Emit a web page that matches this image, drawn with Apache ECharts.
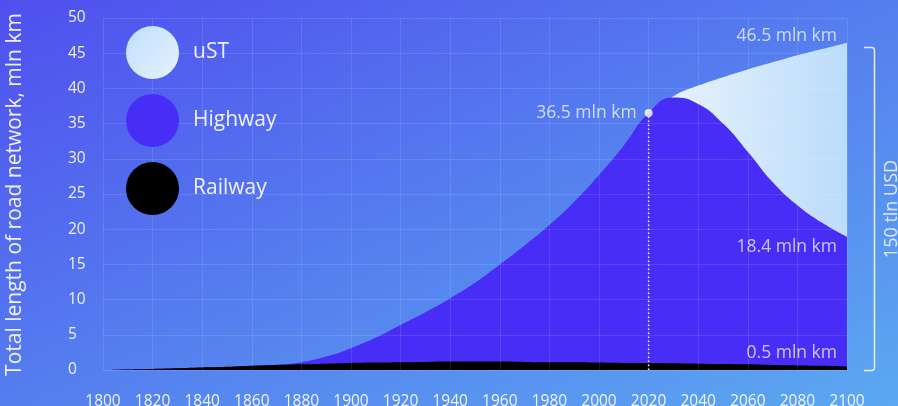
<!DOCTYPE html>
<html>
<head>
<meta charset="utf-8">
<script src="https://cdn.jsdelivr.net/npm/echarts@6/dist/echarts.min.js"></script>
<style>
  html, body { margin: 0; padding: 0; }
  #chart { width: 898px; height: 406px; }
</style>
</head>
<body>
<div id="chart"></div>
<script>
// Road network length, mln km
const years = [1800, 1810, 1820, 1830, 1840, 1850, 1860, 1870, 1880, 1890,
               1900, 1910, 1920, 1930, 1940, 1950, 1960, 1970, 1980, 1990,
               2000, 2010, 2020, 2030, 2040, 2050, 2060, 2070, 2080, 2090, 2100];
const railway = [0, 0.08, 0.15, 0.25, 0.35, 0.45, 0.6, 0.7, 0.8, 0.9,
                 1.0, 1.05, 1.1, 1.15, 1.2, 1.2, 1.2, 1.15, 1.1, 1.1,
                 1.05, 1.0, 1.0, 0.95, 0.9, 0.85, 0.8, 0.7, 0.65, 0.6, 0.5];
const highway = [0, 0, 0, 0, 0, 0, 0, 0.05, 0.3, 1.0,
                 2.1, 3.55, 5.3, 7.05, 9.0, 11.2, 13.8, 16.55, 19.5, 22.8,
                 26.65, 30.9, 35.5, 37.75, 36.9, 34.15, 30.2, 26.0, 22.75, 20.3, 18.4];
// uST network total (upper envelope), from 2020 on
const ustYears = [2020, 2030, 2040, 2050, 2060, 2070, 2080, 2090, 2100];
const ust = [36.5, 38.9, 40.4, 41.6, 42.7, 43.7, 44.7, 45.6, 46.5];

const seriesNames = ['uST', 'Highway', 'Railway'];
const yearTicks = { min: 1800, max: 2100, step: 20 };
const lengthTicks = { min: 0, max: 50, step: 5 };
const bracketText = '150 tln USD';
const yTitle = 'Total length of road network, mln km';

const FONT = '"Open Sans", sans-serif';
const TEXT = 'rgba(255,255,255,0.9)';
const HIGHWAY_COLOR = '#472df5';

const pairs = (xs, ys) => xs.map((x, i) => [x, ys[i]]);
const last = a => a[a.length - 1];
const fmt = v => v.toFixed(1) + ' mln km';
// highway sits on top of the railway band
const highwayTop = highway.map((v, i) => +(v + railway[i]).toFixed(2));
const i2020 = years.indexOf(2020);
const total2020 = highwayTop[i2020];
const total2100 = last(highwayTop);

const ustFill = {
  type: 'linear', x: 0, y: 0, x2: 1, y2: 0,
  colorStops: [{ offset: 0, color: '#ebf5fd' }, { offset: 1, color: '#bbdcfb' }]
};
const ustLegendFill = {
  type: 'linear', x: 0, y: 0, x2: 1, y2: 1,
  colorStops: [{ offset: 0, color: '#bedffb' }, { offset: 1, color: '#e6f2fd' }]
};

const chart = echarts.init(document.getElementById('chart'), null, { renderer: 'canvas' });

chart.setOption({
  animation: false,
  backgroundColor: {
    type: 'linear', global: true, x: 0, y: 0, x2: 305, y2: 674,
    colorStops: [
      { offset: 0, color: '#4f4fee' },
      { offset: 0.5, color: '#557eef' },
      { offset: 1, color: '#5ca8f1' }
    ]
  },
  textStyle: { fontFamily: FONT },
  grid: { left: 103, right: 51, top: 18, bottom: 36, containLabel: false, outerBoundsMode: 'none' },
  legend: {
    orient: 'vertical',
    left: 126, top: 26, padding: 0,
    icon: 'circle',
    itemWidth: 53, itemHeight: 53, itemGap: 15,
    selectedMode: false,
    textStyle: { color: TEXT, fontSize: 21, fontFamily: FONT, padding: [0, 0, 0, 9] },
    data: [
      { name: seriesNames[0], itemStyle: { color: ustLegendFill } },
      { name: seriesNames[1], itemStyle: { color: HIGHWAY_COLOR } },
      { name: seriesNames[2], itemStyle: { color: '#000000' } }
    ]
  },
  xAxis: {
    type: 'value',
    min: yearTicks.min, max: yearTicks.max, interval: yearTicks.step,
    z: 4,
    axisLine: { show: false },
    axisTick: { show: false },
    axisLabel: { color: TEXT, fontSize: 15.5, fontFamily: FONT, margin: 24, formatter: v => String(v) },
    splitLine: { show: true, lineStyle: { color: 'rgba(255,255,255,0.11)', width: 1 } }
  },
  yAxis: {
    type: 'value',
    min: lengthTicks.min, max: lengthTicks.max, interval: lengthTicks.step,
    z: 4,
    axisLine: { show: false },
    axisTick: { show: false },
    axisLabel: { color: TEXT, fontSize: 15.5, fontFamily: FONT, margin: 35, align: 'left', padding: [5, 0, 0, 0] },
    splitLine: { show: true, lineStyle: { color: 'rgba(255,255,255,0.11)', width: 1 } }
  },
  series: [
    {
      name: seriesNames[0], type: 'line', z: 1,
      data: pairs(ustYears, ust),
      smooth: 0.5, symbol: 'none',
      lineStyle: { width: 0 },
      itemStyle: { color: ustFill },
      areaStyle: { color: ustFill, opacity: 1 }
    },
    {
      name: seriesNames[1], type: 'line', z: 2,
      data: pairs(years, highwayTop),
      smooth: 0.5, symbol: 'none',
      lineStyle: { width: 0 },
      itemStyle: { color: HIGHWAY_COLOR },
      areaStyle: { color: HIGHWAY_COLOR, opacity: 1 }
    },
    {
      name: seriesNames[2], type: 'line', z: 3,
      data: pairs(years, railway),
      smooth: 0.5, symbol: 'none',
      lineStyle: { width: 0 },
      itemStyle: { color: '#000000' },
      areaStyle: { color: '#000000', opacity: 1 }
    },
    {
      // dotted drop line from the 2020 value
      name: 'drop', type: 'line', z: 5,
      data: [[2020, 0], [2020, total2020]],
      symbol: 'none',
      lineStyle: { color: 'rgba(255,255,255,0.95)', width: 1.5, type: [1.5, 2.5] }
    },
    {
      name: 'marker', type: 'scatter', z: 6,
      symbol: 'circle', symbolSize: 8,
      itemStyle: { color: '#ffffff' },
      data: [{
        value: [2020, total2020],
        label: {
          show: true, position: 'left', distance: 8, offset: [0, 0],
          formatter: fmt(total2020), color: TEXT, fontSize: 17.5, fontFamily: FONT
        }
      }]
    },
    {
      name: 'notes', type: 'scatter', z: 6,
      symbolSize: 0, silent: true,
      label: { show: true, position: 'left', distance: 10, color: TEXT, fontSize: 17.5, fontFamily: FONT },
      data: [
        { value: [2100, last(ust)], label: { formatter: fmt(last(ust)), offset: [0, -7] } },
        { value: [2100, total2100], label: { formatter: fmt(last(highway)), offset: [0, 10] } },
        { value: [2100, last(railway)], label: { formatter: fmt(last(railway)), offset: [0, -13] } }
      ]
    }
  ],
  graphic: [
    {
      type: 'text', x: 15, y: 194.5, rotation: Math.PI / 2,
      style: { text: yTitle, fill: TEXT, font: '21px ' + FONT, textAlign: 'center', textVerticalAlign: 'middle' }
    },
    {
      type: 'polyline',
      shape: { points: [[864, 47.5], [872, 47.5], [874, 48.3], [874.5, 50.5], [874.5, 367.5], [874, 369.7], [872, 370.5], [864, 370.5]] },
      style: { stroke: 'rgba(255,255,255,0.85)', lineWidth: 1.5, fill: null }
    },
    {
      type: 'text', x: 891.5, y: 209, rotation: Math.PI / 2,
      style: { text: bracketText, fill: 'rgba(255,255,255,0.8)', font: '18px ' + FONT, textAlign: 'center', textVerticalAlign: 'middle' }
    }
  ]
});
</script>
</body>
</html>
